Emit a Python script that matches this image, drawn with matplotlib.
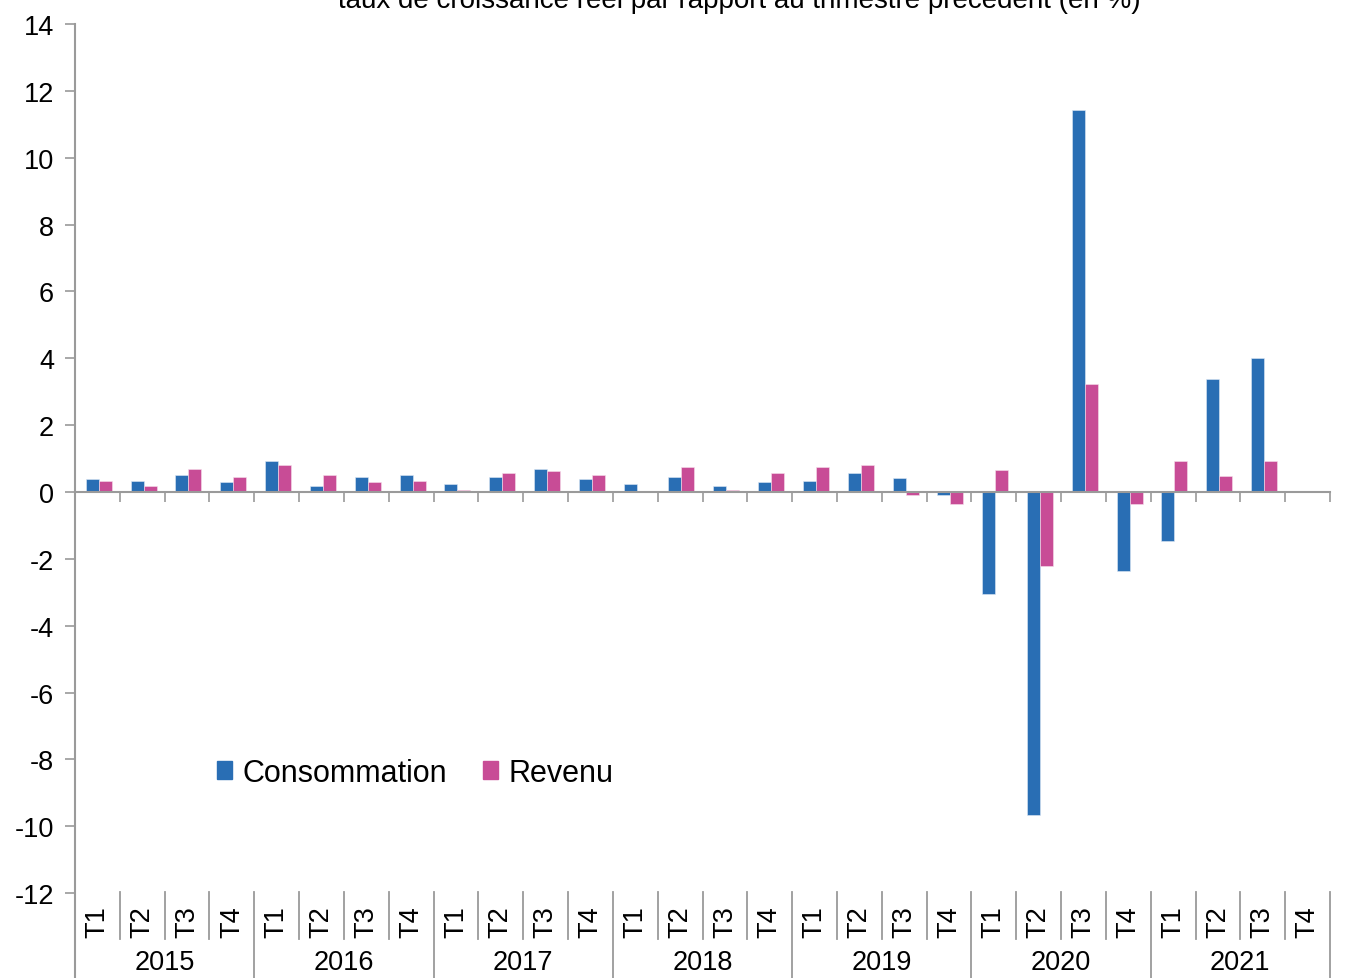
import matplotlib
matplotlib.use("Agg")
import matplotlib.pyplot as plt
import matplotlib.transforms as mtransforms
from matplotlib.patches import Patch
import numpy as np

plt.rcParams['font.family'] = ['Liberation Sans', 'DejaVu Sans']
plt.rcParams['axes.unicode_minus'] = False

# Donnees (en %)
years = ["2015", "2016", "2017", "2018", "2019", "2020", "2021"]
quarters = ["T1", "T2", "T3", "T4"]
consommation = [0.40, 0.34, 0.52, 0.29,
                0.92, 0.17, 0.46, 0.52,
                0.23, 0.46, 0.69, 0.40,
                0.23, 0.46, 0.17, 0.29,
                0.34, 0.58, 0.42, -0.08,
                -3.05, -9.66, 11.42, -2.36,
                -1.46, 3.39, 4.01, np.nan]
revenu = [0.34, 0.17, 0.69, 0.46,
          0.81, 0.52, 0.29, 0.34,
          0.07, 0.58, 0.63, 0.52,
          0.0, 0.75, 0.07, 0.58,
          0.75, 0.80, -0.08, -0.37,
          0.65, -2.20, 3.22, -0.37,
          0.93, 0.48, 0.93, np.nan]
title = "taux de croissance réel par rapport au trimestre précédent (en %)"

blue = "#296EB4"
pink = "#C84C96"
grey = "#9A9A9A"

W, H = 1361, 979
fig = plt.figure(figsize=(W / 100, H / 100), dpi=100)

# axe : y=14 a 25px, y=0 a 493px, bas de l'image = fin de l'axe
px_per_unit = (493 - 25) / 14
ymin = 14 - (H - 25) / px_per_unit
ax = fig.add_axes([75 / W, 0, (1330 - 75) / W, (H - 25) / H])

n = len(consommation)
x = np.arange(n) + 0.53
bw = 0.29
ax.bar(x - bw / 2, consommation, bw, color=blue, edgecolor="#dfe9f5", linewidth=0.4, zorder=2)
ax.bar(x + bw / 2, revenu, bw, color=pink, edgecolor="#f5dfeb", linewidth=0.4, zorder=2)

ax.set_xlim(0, n)
ax.set_ylim(ymin, 14)
ax.set_yticks(np.arange(-12, 15, 2))
ax.tick_params(axis="y", direction="out", length=7, width=1.2, color=grey,
               labelsize=19.5, pad=8)

for s in ["top", "right"]:
    ax.spines[s].set_visible(False)
ax.spines["left"].set_color(grey)
ax.spines["left"].set_linewidth(1.5)
ax.spines["bottom"].set_position(("data", 0))
ax.spines["bottom"].set_color(grey)
ax.spines["bottom"].set_linewidth(1.5)
ax.set_xticks(np.arange(0, n + 1))
ax.set_xticklabels([])
ax.tick_params(axis="x", direction="out", length=7, width=1.2, color=grey)

# etiquettes de categories en bas (trimestres + annees)
trans = mtransforms.blended_transform_factory(ax.transData, fig.transFigure)
top_sep = 1 - 893 / H
q_bottom = 1 - 940 / H
for i in range(n):
    ax.text(i + 0.5, 1 - 922 / H, quarters[i % 4], rotation=90, transform=trans,
            ha="center", va="center", fontsize=19.5)
for k in range(1, n + 1):
    if k % 4 == 0:
        ax.plot([k, k], [top_sep, 0], transform=trans, color=grey, lw=1.3, clip_on=False)
    else:
        ax.plot([k, k], [top_sep, q_bottom], transform=trans, color=grey, lw=1.3, clip_on=False)
for j, yr in enumerate(years):
    ax.text(4 * j + 2, 1 - 963 / H, yr, transform=trans, ha="center", va="center",
            fontsize=19.5)

fig.text(739 / W, 1 - 8 / H, title, ha="center", va="baseline", fontsize=20)

handles = [Patch(color=blue, label="Consommation"), Patch(color=pink, label="Revenu")]
fig.legend(handles=handles, loc="center left", bbox_to_anchor=(217 / W, 1 - 774 / H),
           ncol=2, frameon=False, fontsize=22, handlelength=0.5, handleheight=0.5,
           handletextpad=0.35, columnspacing=1.15, borderpad=0, borderaxespad=0)

fig.savefig("out.png", dpi=100)
